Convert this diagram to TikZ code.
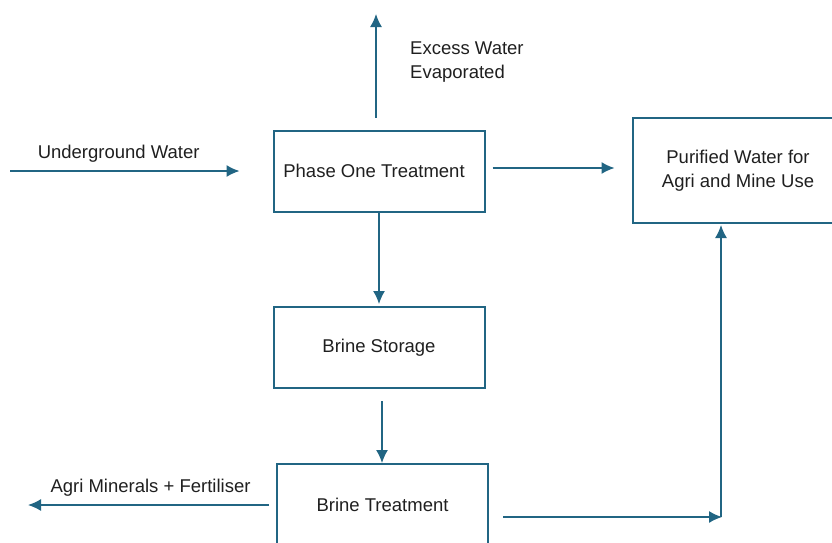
\documentclass[tikz,border=0pt]{standalone}
\usepackage{fontspec}
\setmainfont{Liberation Sans}
\usetikzlibrary{arrows.meta}
\definecolor{flowblue}{RGB}{33,101,131}
\begin{document}
\begin{tikzpicture}[x=1pt,y=-1pt,font=\fontsize{18.5}{24}\selectfont,
  procbox/.style={draw=flowblue,line width=2pt,minimum width=211pt,minimum height=81pt,align=center,inner sep=0pt,text=black!88},
  flow/.style={draw=flowblue,line width=1.4pt,-{Latex[length=13pt,width=12pt]}},
  lbl/.style={align=left,inner sep=0pt,text=black!88}]
\useasboundingbox (0,0) rectangle (832,542);
% boxes
\node[procbox] (phase) at (379,171) {Phase One Treatment\hspace*{10pt}};
\node[procbox] (store) at (379,347.5) {Brine Storage};
\node[procbox] (treat) at (382.5,504.5) {Brine Treatment};
\node[procbox,minimum height=105pt] (pure) at (738,170.5) {Purified Water for\\Agri and Mine Use};
% free ends
\coordinate (inflow) at (10,171);
\coordinate (steam) at (376,14);
\coordinate (minout) at (28,505);
\coordinate (bend) at (721,517);
% connectors
\draw[flow,shorten >=33pt] (inflow) -- (inflow -| phase.west)
  node[lbl,pos=0.414,above=8pt] (inlbl) {Underground Water};
\draw[flow,shorten <=12pt] (steam |- phase.north) -- (steam);
\node[lbl,anchor=west] (exlbl) at (410,62) {Excess Water\\Evaporated};
\draw[flow,shorten <=7pt,shorten >=17pt] ([yshift=3pt]phase.east) -- ([yshift=3pt]phase.east -| pure.west);
\draw[flow,shorten >=2pt] (phase.south) -- (store.north);
\draw[flow,shorten <=12pt] ([xshift=3pt]store.south) -- ([xshift=3pt]store.south |- treat.north);
\draw[flow,shorten <=7pt] (minout -| treat.west) -- (minout)
  node[lbl,pos=0.506,above=8pt] (minlbl) {Agri Minerals + Fertiliser};
\draw[flow,shorten <=14pt,shorten >=-1pt] (bend -| treat.east) -- (bend);
\draw[flow,shorten >=1pt] (bend) -- (bend |- pure.south);
\end{tikzpicture}
\end{document}
